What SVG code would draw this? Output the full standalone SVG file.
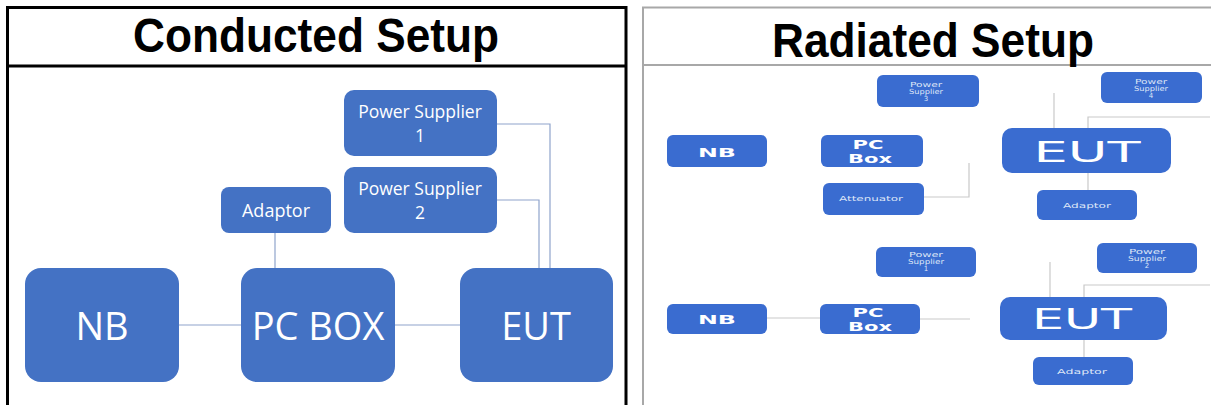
<svg xmlns="http://www.w3.org/2000/svg" width="1211" height="405" viewBox="0 0 1211 405">
<style>
.frame{fill:none;stroke:#000;stroke-width:3}
.frame2{fill:none;stroke:#a8a8a8;stroke-width:2}
.title{font-family:"Liberation Sans",Arial,sans-serif;font-weight:bold;fill:#000;text-anchor:middle}
.box{fill:#4472c4}
.rbox{fill:#3a6cd0}
.lt{font-family:"Open Sans","Noto Sans",sans-serif;fill:#fff;text-anchor:middle}
.rt{font-family:"DejaVu Sans","Noto Sans",sans-serif;font-weight:bold;fill:#fff;text-anchor:middle}
.big{font-family:"DejaVu Sans","Noto Sans",sans-serif;fill:#fff;text-anchor:middle;font-size:28px}
.tiny{font-family:"DejaVu Sans","Noto Sans",sans-serif;fill:#dfe7f7;text-anchor:middle;font-size:7px}
.conn{fill:none;stroke:#8fa4cc;stroke-width:1.2}
.rconn{fill:none;stroke:#c9c9c9;stroke-width:1.2}
</style>
<rect width="1211" height="405" fill="#fff"/>
<!-- Left panel frame -->
<g id="left-frame">
<path class="frame" d="M7.5,405 V7.5 H626 V405"/>
<line class="frame" x1="7.5" y1="66" x2="626" y2="66"/>
<text class="title" x="316" y="52" font-size="48" textLength="366" lengthAdjust="spacingAndGlyphs">Conducted Setup</text>
</g>
<!-- Right panel frame -->
<g id="right-frame">
<path class="frame2" d="M643,405 V7.5 H1211"/>
<line class="frame2" x1="643" y1="65" x2="1211" y2="65"/>
<text class="title" x="933" y="57" font-size="49" textLength="322" lengthAdjust="spacingAndGlyphs">Radiated Setup</text>
</g>
<!-- Connectors -->
<g id="connectors">
<line class="conn" x1="179" y1="325" x2="241" y2="325"/>
<line class="conn" x1="395" y1="325" x2="460" y2="325"/>
<line class="conn" x1="275" y1="233" x2="275" y2="268"/>
<polyline class="conn" points="497,200 539,200 539,268"/>
<polyline class="conn" points="497,124 550,124 550,268"/>
<line class="rconn" x1="1054" y1="93" x2="1054" y2="128"/>
<polyline class="rconn" points="1210,117 1088,117 1088,128"/>
<line class="rconn" x1="1088" y1="173" x2="1088" y2="190"/>
<polyline class="rconn" points="924,197 969,197 969,163"/>
<line class="rconn" x1="767" y1="318" x2="820" y2="318"/>
<line class="rconn" x1="920" y1="319" x2="970" y2="319"/>
<line class="rconn" x1="1050" y1="262" x2="1050" y2="297"/>
<polyline class="rconn" points="1210,285 1084,285 1084,297"/>
<line class="rconn" x1="1084" y1="340" x2="1084" y2="357"/>
</g>
<!-- Conducted nodes -->
<g id="c-ps1"><rect class="box" x="344" y="90" width="153" height="66" rx="10"/><text class="lt" font-size="17.5" x="420" y="118">Power Supplier</text><text class="lt" font-size="17.5" x="420" y="142">1</text></g>
<g id="c-ps2"><rect class="box" x="344" y="167" width="153" height="66" rx="10"/><text class="lt" font-size="17.5" x="420" y="195">Power Supplier</text><text class="lt" font-size="17.5" x="420" y="219">2</text></g>
<g id="c-adaptor"><rect class="box" x="221" y="187" width="110" height="46" rx="8"/><text class="lt" font-size="18" x="276" y="217">Adaptor</text></g>
<g id="c-nb"><rect class="box" x="25" y="268" width="154" height="114" rx="16"/><text class="lt" font-size="38" x="102" y="340">NB</text></g>
<g id="c-pcbox"><rect class="box" x="241" y="268" width="154" height="114" rx="16"/><text class="lt" font-size="38" x="318" y="340">PC BOX</text></g>
<g id="c-eut"><rect class="box" x="460" y="268" width="153" height="114" rx="16"/><text class="lt" font-size="38" x="536" y="340">EUT</text></g>
<!-- Radiated nodes (top) -->
<g id="r-ps3"><rect class="rbox" x="877" y="75" width="102" height="32" rx="6"/><text class="tiny" x="926" y="87" textLength="32" lengthAdjust="spacingAndGlyphs">Power</text><text class="tiny" x="926" y="94" textLength="34" lengthAdjust="spacingAndGlyphs">Supplier</text><text class="tiny" x="926" y="101">3</text></g>
<g id="r-ps4"><rect class="rbox" x="1101" y="72" width="101" height="31" rx="6"/><text class="tiny" x="1151" y="84" textLength="32" lengthAdjust="spacingAndGlyphs">Power</text><text class="tiny" x="1151" y="91" textLength="34" lengthAdjust="spacingAndGlyphs">Supplier</text><text class="tiny" x="1151" y="98">4</text></g>
<g id="r-nb1"><rect class="rbox" x="667" y="135" width="100" height="32" rx="6"/><text class="rt" font-size="12" x="717" y="157" textLength="38" lengthAdjust="spacingAndGlyphs">NB</text></g>
<g id="r-pcbox1"><rect class="rbox" x="821" y="135" width="102" height="32" rx="6"/><text class="rt" font-size="12" x="868" y="149" textLength="31" lengthAdjust="spacingAndGlyphs">PC</text><text class="rt" font-size="12" x="870" y="163" textLength="44" lengthAdjust="spacingAndGlyphs">Box</text></g>
<g id="r-attenuator"><rect class="rbox" x="823" y="183" width="101" height="32" rx="6"/><text class="tiny" x="871" y="201" textLength="64" lengthAdjust="spacingAndGlyphs">Attenuator</text></g>
<g id="r-eut1"><rect class="rbox" x="1002" y="128" width="169" height="45" rx="10"/><text class="big" x="1087" y="162" textLength="107" lengthAdjust="spacingAndGlyphs">EUT</text></g>
<g id="r-adaptor1"><rect class="rbox" x="1037" y="190" width="100" height="30" rx="6"/><text class="tiny" x="1087" y="208" textLength="48" lengthAdjust="spacingAndGlyphs">Adaptor</text></g>
<!-- Radiated nodes (bottom) -->
<g id="r-ps1"><rect class="rbox" x="876" y="247" width="100" height="30" rx="6"/><text class="tiny" x="926" y="257" textLength="34" lengthAdjust="spacingAndGlyphs">Power</text><text class="tiny" x="926" y="264" textLength="36" lengthAdjust="spacingAndGlyphs">Supplier</text><text class="tiny" x="926" y="271">1</text></g>
<g id="r-ps2"><rect class="rbox" x="1097" y="243" width="100" height="30" rx="6"/><text class="tiny" x="1147" y="254" textLength="36" lengthAdjust="spacingAndGlyphs">Power</text><text class="tiny" x="1147" y="261" textLength="38" lengthAdjust="spacingAndGlyphs">Supplier</text><text class="tiny" x="1147" y="268">2</text></g>
<g id="r-nb2"><rect class="rbox" x="667" y="304" width="100" height="30" rx="6"/><text class="rt" font-size="12" x="717" y="324" textLength="38" lengthAdjust="spacingAndGlyphs">NB</text></g>
<g id="r-pcbox2"><rect class="rbox" x="820" y="304" width="100" height="30" rx="6"/><text class="rt" font-size="12" x="868" y="317" textLength="31" lengthAdjust="spacingAndGlyphs">PC</text><text class="rt" font-size="12" x="870" y="331" textLength="44" lengthAdjust="spacingAndGlyphs">Box</text></g>
<g id="r-eut2"><rect class="rbox" x="1000" y="297" width="167" height="43" rx="10"/><text class="big" x="1082" y="329" textLength="100" lengthAdjust="spacingAndGlyphs">EUT</text></g>
<g id="r-adaptor2"><rect class="rbox" x="1033" y="357" width="100" height="28" rx="6"/><text class="tiny" x="1082" y="374" textLength="50" lengthAdjust="spacingAndGlyphs">Adaptor</text></g>
</svg>
